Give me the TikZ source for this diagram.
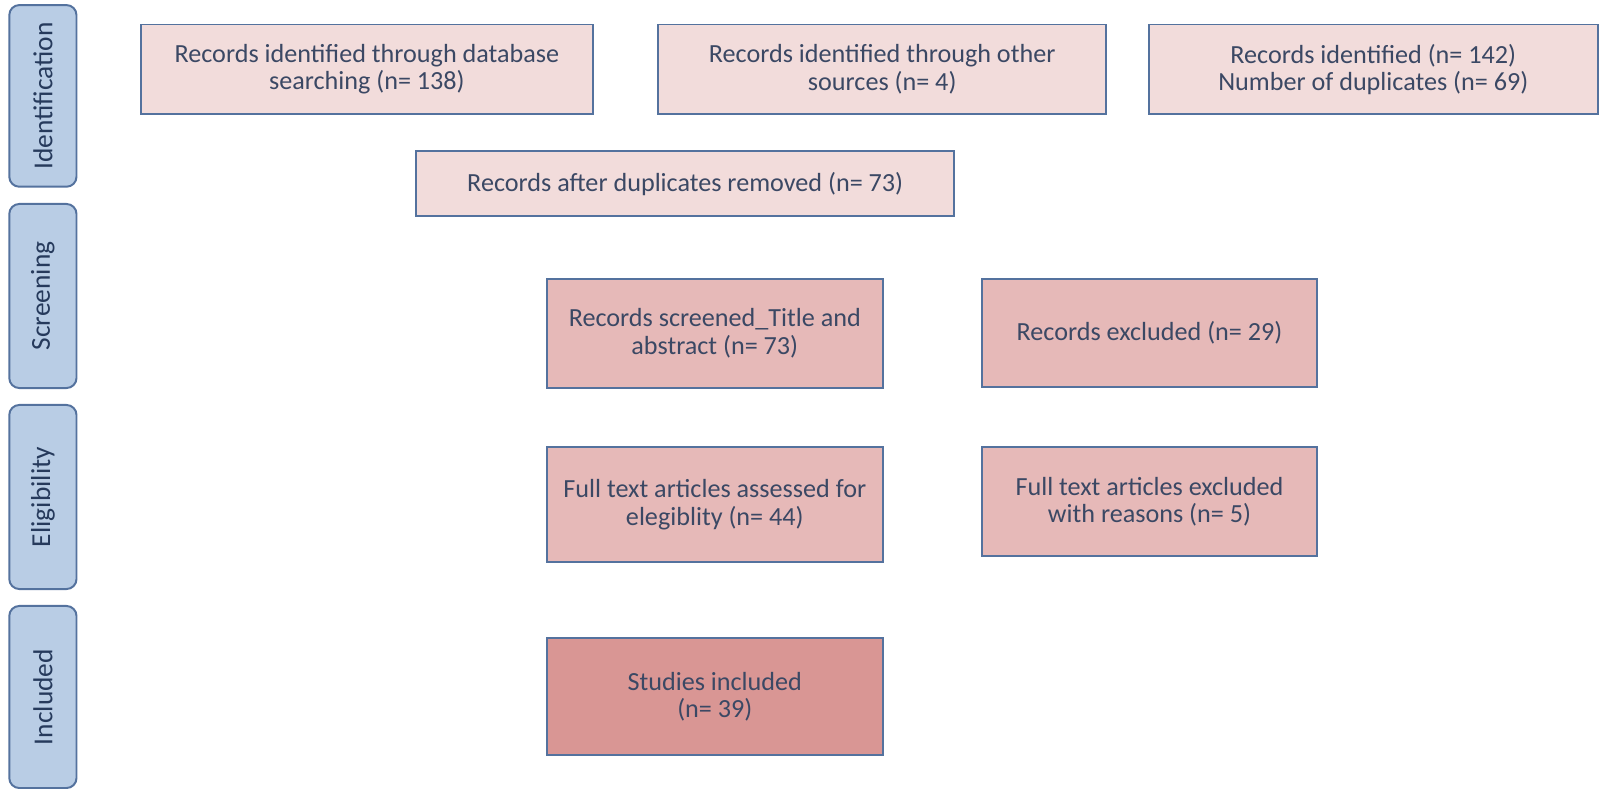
\documentclass[tikz,border=0pt]{standalone}
\usepackage{fontspec}
\setmainfont{Carlito}
\definecolor{boxline}{RGB}{84,114,158}
\definecolor{boxtext}{RGB}{59,72,100}
\definecolor{tabfill}{RGB}{185,205,229}
\definecolor{tabtext}{RGB}{38,58,92}
\definecolor{pinklight}{RGB}{242,220,219}
\definecolor{pinkmid}{RGB}{230,185,184}
\definecolor{pinkdark}{RGB}{217,150,148}

\begin{document}
\begin{tikzpicture}[x=0.025cm,y=-0.025cm,
  recbox/.style={draw=boxline,line width=1.4pt,text=boxtext,align=center,inner sep=2pt,
    font=\fontsize{18.6}{19.5}\selectfont},
  stagetab/.style={draw=boxline,fill=tabfill,line width=1.4pt,rounded corners=0.25cm,
    rotate=90,minimum height=1.68cm,text=tabtext,font=\fontsize{19.5}{22}\selectfont}]
\useasboundingbox (0,0) rectangle (1600,789);
% stage tabs on the left
\foreach \n/\y/\h/\t in {ident/95.9/4.54/Identification,screen/296/4.6/Screening,
  elig/497/4.6/Eligibility,incl/697/4.55/Included}
	\node[stagetab,minimum width=\h cm] (\n) at (42.9,\y) {\t};
% identification
\node[recbox,fill=pinklight,minimum width=11.3cm,minimum height=2.245cm] (dbsearch) at (366.9,69.4)
	{Records identified through database\\searching (n= 138)};
\node[recbox,fill=pinklight,minimum width=11.2cm,minimum height=2.245cm] (othersrc) at (882.2,69.4)
	{Records identified through other\\sources (n= 4)};
\node[recbox,fill=pinklight,minimum width=11.22cm,minimum height=2.245cm] (total) at (1373.3,69.4)
	{Records identified (n= 142)\\Number of duplicates (n= 69)};
\node[recbox,fill=pinklight,minimum width=13.45cm,minimum height=1.63cm] (dedup) at (685.2,183.7)
	{Records after duplicates removed (n= 73)};
% screening
\node[recbox,fill=pinkmid,minimum width=8.39cm,minimum height=2.73cm] (screened) at (714.8,333.2)
	{Records screened\_Title and\\abstract (n= 73)};
\node[recbox,fill=pinkmid,minimum width=8.39cm,minimum height=2.7cm] (excl) at (1149.5,332.7)
	{Records excluded (n= 29)};
% eligibility
\node[recbox,fill=pinkmid,minimum width=8.39cm,minimum height=2.88cm] (fulltext) at (714.8,504.7)
	{Full text articles assessed for\\elegiblity (n= 44)};
\node[recbox,fill=pinkmid,minimum width=8.39cm,minimum height=2.73cm] (ftexcl) at (1149.5,501.6)
	{Full text articles excluded\\with reasons (n= 5)};
% included
\node[recbox,fill=pinkdark,minimum width=8.39cm,minimum height=2.93cm] (studies) at (714.8,696.5)
	{Studies included\\(n= 39)};
\end{tikzpicture}
\end{document}
